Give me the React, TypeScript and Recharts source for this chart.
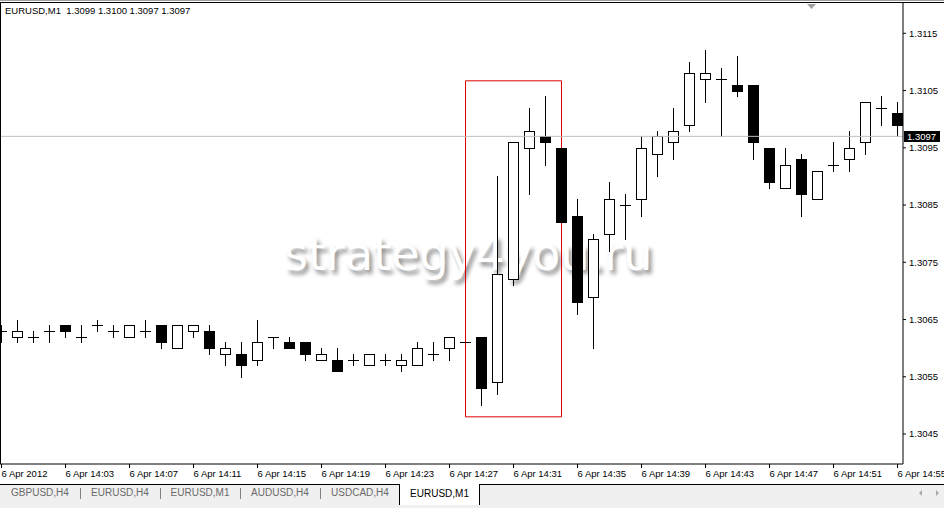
import React from 'react';
import { ComposedChart, Bar, XAxis, YAxis, ReferenceLine, ReferenceArea } from 'recharts';

// ---- data (EURUSD M1, 6 Apr 2012, 13:59 .. 14:55) ----
const opens = [
  1.3063, 1.3062, 1.3062, 1.3063, 1.3064, 1.3062, 1.3064, 1.3063, 1.3062, 1.3063,
  1.3064, 1.3060, 1.3063, 1.3063, 1.3059, 1.3059, 1.3058, 1.3062, 1.3061, 1.3061,
  1.3058, 1.3058, 1.3058, 1.3057, 1.3058, 1.3057, 1.3057, 1.3059, 1.3060, 1.3061,
  1.3062, 1.3054, 1.3072, 1.3095, 1.3097, 1.3095, 1.3083, 1.3069, 1.3080, 1.3085,
  1.3086, 1.3094, 1.3096, 1.3099, 1.3107, 1.3107, 1.3106, 1.3106, 1.3095, 1.3088,
  1.3093, 1.3086, 1.3092, 1.3093, 1.3096, 1.3102, 1.3101,
];
const highs = [
  1.3064, 1.3065, 1.3063, 1.3064, 1.3064, 1.3064, 1.3065, 1.3064, 1.3064, 1.3065,
  1.3064, 1.3064, 1.3064, 1.3064, 1.3061, 1.3061, 1.3065, 1.3062, 1.3062, 1.3061,
  1.3060, 1.3060, 1.3059, 1.3059, 1.3059, 1.3059, 1.3061, 1.3061, 1.3062, 1.3061,
  1.3062, 1.3090, 1.3096, 1.3102, 1.3104, 1.3095, 1.3086, 1.3080, 1.3089, 1.3087,
  1.3097, 1.3098, 1.3102, 1.3110, 1.3112, 1.3109, 1.3111, 1.3106, 1.3095, 1.3095,
  1.3094, 1.3091, 1.3096, 1.3098, 1.3103, 1.3104, 1.3103,
];
const lows = [
  1.3061, 1.3061, 1.3061, 1.3061, 1.3062, 1.3061, 1.3063, 1.3062, 1.3062, 1.3062,
  1.3060, 1.3060, 1.3062, 1.3059, 1.3057, 1.3055, 1.3057, 1.3060, 1.3060, 1.3058,
  1.3058, 1.3056, 1.3057, 1.3057, 1.3057, 1.3056, 1.3057, 1.3058, 1.3058, 1.3061,
  1.3050, 1.3052, 1.3071, 1.3087, 1.3092, 1.3082, 1.3066, 1.3060, 1.3077, 1.3079,
  1.3083, 1.3090, 1.3093, 1.3098, 1.3103, 1.3097, 1.3104, 1.3093, 1.3088, 1.3088,
  1.3083, 1.3086, 1.3091, 1.3091, 1.3094, 1.3099, 1.3097,
];
const closes = [
  1.3063, 1.3063, 1.3062, 1.3063, 1.3063, 1.3062, 1.3064, 1.3063, 1.3064, 1.3063,
  1.3061, 1.3064, 1.3064, 1.3060, 1.3060, 1.3057, 1.3061, 1.3062, 1.3060, 1.3059,
  1.3059, 1.3056, 1.3058, 1.3059, 1.3058, 1.3058, 1.3060, 1.3059, 1.3062, 1.3061,
  1.3053, 1.3073, 1.3096, 1.3098, 1.3096, 1.3082, 1.3068, 1.3079, 1.3086, 1.3085,
  1.3095, 1.3097, 1.3098, 1.3108, 1.3108, 1.3107, 1.3105, 1.3096, 1.3089, 1.3092,
  1.3087, 1.3091, 1.3092, 1.3095, 1.3103, 1.3102, 1.3099,
];

const timeTickIndex = [0, 4, 8, 12, 16, 20, 24, 28, 32, 36, 40, 44, 48, 52, 56];
const timeLabels = [
  '6 Apr 2012', '6 Apr 14:03', '6 Apr 14:07', '6 Apr 14:11', '6 Apr 14:15',
  '6 Apr 14:19', '6 Apr 14:23', '6 Apr 14:27', '6 Apr 14:31', '6 Apr 14:35',
  '6 Apr 14:39', '6 Apr 14:43', '6 Apr 14:47', '6 Apr 14:51', '6 Apr 14:55',
];
const priceTicks = [1.3045, 1.3055, 1.3065, 1.3075, 1.3085, 1.3095, 1.3105, 1.3115];
const lastPrice = 1.3097;
const headerText = 'EURUSD,M1  1.3099 1.3100 1.3097 1.3097';
const tabNames = ['GBPUSD,H4', 'EURUSD,H4', 'EURUSD,M1', 'AUDUSD,H4', 'USDCAD,H4'];
const activeTab = 'EURUSD,M1';
const watermark = 'strategy4you.ru';
// highlighted box: candles 14:28 .. 14:34
const boxFrom = 29;
const boxTo = 35;
const boxTop = 1.31067;
const boxBottom = 1.3048;

const data = opens.map((o, i) => ({
  i,
  open: o,
  high: highs[i],
  low: lows[i],
  close: closes[i],
}));

const FONT = '"Liberation Sans", Arial, sans-serif';

const Candle = (props: any) => {
  const { x, y, width, height, payload } = props;
  if (!payload || x == null) return null;
  const { open, close, high, low } = payload;
  const cx = Math.floor(x + width / 2) + 0.5;
  const top = Math.min(y, y + height);
  const bot = Math.max(y, y + height);
  const range = high - low;
  const py = (p: number) =>
    Math.round(range === 0 ? top : top + ((high - p) / range) * (bot - top)) + 0.5;
  const yh = py(high);
  const yl = py(low);
  const yo = py(open);
  const yc = py(close);
  const half = 5;
  return (
    <g>
      {yl > yh && <line x1={cx} x2={cx} y1={yh - 0.5} y2={yl + 0.5} stroke="#000" strokeWidth={1} />}
      {open === close ? (
        <line x1={cx - half - 0.5} x2={cx + half + 0.5} y1={yo} y2={yo} stroke="#000" strokeWidth={1} />
      ) : (
        <rect
          x={cx - half}
          y={Math.min(yo, yc)}
          width={half * 2}
          height={Math.abs(yo - yc)}
          fill={close > open ? '#fff' : '#000'}
          stroke="#000"
          strokeWidth={1}
        />
      )}
    </g>
  );
};

const XTick = (props: any) => {
  const { x, y, payload } = props;
  const k = timeTickIndex.indexOf(payload.value);
  return (
    <text x={x} y={y} dy="0.71em" textAnchor="start" fill="#000" fontSize={9.5} fontFamily={FONT}>
      {k >= 0 ? timeLabels[k] : ''}
    </text>
  );
};

const PriceLabel = (props: any) => {
  const vb = props.viewBox || {};
  const rx = (vb.x || 0) + (vb.width || 0) + 1;
  const ry = Math.round(vb.y || 0) - 5;
  return (
    <g>
      <rect x={rx} y={ry} width={36} height={11} fill="#000" />
      <text x={rx + 3} y={ry + 9} fill="#fff" fontSize={9.5} fontFamily={FONT}>
        {lastPrice.toFixed(4)}
      </text>
    </g>
  );
};

export default function App() {
  return (
    <div
      style={{
        position: 'absolute',
        left: 0,
        top: 0,
        width: 944,
        height: 508,
        background: '#fff',
        overflow: 'hidden',
        fontFamily: FONT,
      }}
    >
      {/* watermark behind the chart */}
      <div
        style={{
          position: 'absolute',
          left: 284,
          top: 231,
          fontFamily: '"DejaVu Sans", sans-serif',
          fontSize: 46,
          lineHeight: '46px',
          color: '#fff',
          whiteSpace: 'nowrap',
          textShadow: '3px 4px 4px rgba(0,0,0,0.45)',
        }}
      >
        {watermark}
      </div>

      <div style={{ position: 'absolute', left: 0, top: 0 }}>
        <ComposedChart
          width={944}
          height={508}
          data={data}
          margin={{ top: 2, right: 0, bottom: 0, left: 0 }}
        >
          <XAxis
            dataKey="i"
            type="number"
            domain={[-0.09375, 56.34375]}
            allowDataOverflow
            ticks={timeTickIndex}
            interval={0}
            height={44}
            tickSize={4}
            tickMargin={2}
            axisLine={{ stroke: '#000' }}
            tickLine={{ stroke: '#000' }}
            tick={<XTick />}
          />
          <YAxis
            orientation="right"
            type="number"
            domain={[1.303976, 1.312047]}
            allowDataOverflow
            ticks={priceTicks}
            interval={0}
            width={41}
            tickSize={3}
            tickMargin={3}
            axisLine={{ stroke: '#000' }}
            tickLine={{ stroke: '#000' }}
            tick={{ fill: '#000', fontSize: 9.5, fontFamily: FONT }}
            tickFormatter={(v: number) => v.toFixed(4)}
          />
          <ReferenceLine y={lastPrice} stroke="#c0c0c0" strokeWidth={1} label={<PriceLabel />} />
          <ReferenceArea
            x1={boxFrom}
            x2={boxTo}
            y1={boxBottom}
            y2={boxTop}
            fill="none"
            fillOpacity={0}
            stroke="#e00000"
            strokeWidth={1}
          />
          <Bar
            dataKey={(d: any) => [d.low, d.high]}
            barSize={11}
            shape={<Candle />}
            isAnimationActive={false}
          />
        </ComposedChart>
      </div>

      {/* window frame lines */}
      <div style={{ position: 'absolute', left: 0, top: 0, width: 944, height: 1, background: '#a0a0a0' }} />
      <div style={{ position: 'absolute', left: 0, top: 2, width: 944, height: 1, background: '#000' }} />
      <div style={{ position: 'absolute', left: 0, top: 2, width: 1, height: 462, background: '#000' }} />
      <svg style={{ position: 'absolute', left: 0, top: 0 }} width={944} height={12}>
        <polygon points="807,4 816,4 811.5,9" fill="#a0a0a0" />
      </svg>

      {/* header */}
      <div
        style={{
          position: 'absolute',
          left: 5,
          top: 5,
          fontSize: 9.5,
          lineHeight: '12px',
          color: '#000',
          whiteSpace: 'pre',
        }}
      >
        {headerText}
      </div>

      {/* tab strip */}
      <div style={{ position: 'absolute', left: 0, top: 484, width: 944, height: 24, background: '#f0f0f0', borderTop: '1px solid #000', boxSizing: 'border-box' }} />
      {tabNames.map((t, k) => (
        <div
          key={k}
          style={{
            position: 'absolute',
            left: k * 80,
            top: 487,
            width: 80,
            textAlign: 'center',
            fontSize: 10,
            lineHeight: '12px',
            color: '#6a6a6a',
          }}
        >
          {t}
        </div>
      ))}
      {[80, 160, 240, 320].map((sx) => (
        <div key={sx} style={{ position: 'absolute', left: sx, top: 488, width: 1, height: 11, background: '#808080' }} />
      ))}
      <div
        style={{
          position: 'absolute',
          left: 399,
          top: 484,
          width: 81,
          height: 21,
          background: '#fff',
          borderLeft: '1px solid #000',
          borderRight: '1px solid #000',
          boxSizing: 'border-box',
          textAlign: 'center',
          fontSize: 10,
          lineHeight: '19px',
          color: '#000',
        }}
      >
        {activeTab}
      </div>
      <svg style={{ position: 'absolute', left: 910, top: 486 }} width={34} height={14}>
        <polygon points="9,7 12,4 12,10" fill="#a8a8a8" />
        <polygon points="26,4 29,7 26,10" fill="#a8a8a8" />
      </svg>
    </div>
  );
}
